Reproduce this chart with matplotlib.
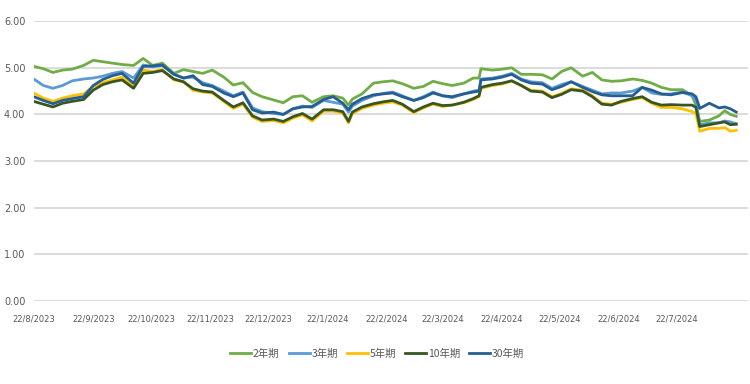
import matplotlib
matplotlib.use("Agg")
import matplotlib.pyplot as plt
import numpy as np
import pandas as pd

# reading points (dates) and yields
dates = ["2023-08-22", "2023-08-27", "2023-09-01", "2023-09-06", "2023-09-11", "2023-09-17",
         "2023-09-22", "2023-09-27", "2023-10-02", "2023-10-07", "2023-10-13", "2023-10-18",
         "2023-10-23", "2023-10-28", "2023-11-03", "2023-11-08", "2023-11-13", "2023-11-18",
         "2023-11-23", "2023-11-29", "2023-12-04", "2023-12-09", "2023-12-14", "2023-12-19",
         "2023-12-25", "2023-12-30", "2024-01-04", "2024-01-09", "2024-01-14", "2024-01-20",
         "2024-01-25", "2024-01-30", "2024-02-02", "2024-02-04", "2024-02-09", "2024-02-15",
         "2024-02-20", "2024-02-25", "2024-03-01", "2024-03-07", "2024-03-12", "2024-03-17",
         "2024-03-22", "2024-03-27", "2024-04-02", "2024-04-07", "2024-04-10", "2024-04-11",
         "2024-04-17", "2024-04-22", "2024-04-27", "2024-05-02", "2024-05-07", "2024-05-13",
         "2024-05-18", "2024-05-23", "2024-05-28", "2024-06-03", "2024-06-08", "2024-06-13",
         "2024-06-18", "2024-06-23", "2024-06-29", "2024-07-04", "2024-07-09", "2024-07-14",
         "2024-07-19", "2024-07-25", "2024-07-30", "2024-08-01", "2024-08-03", "2024-08-08",
         "2024-08-13", "2024-08-16", "2024-08-19", "2024-08-22"]

y2 = [5.03, 4.98, 4.90, 4.95, 4.97, 5.05, 5.16, 5.13, 5.10, 5.07, 5.05, 5.20,
      5.05, 5.10, 4.88, 4.96, 4.92, 4.88, 4.95, 4.80, 4.63, 4.68, 4.47, 4.38,
      4.31, 4.25, 4.38, 4.40, 4.26, 4.38, 4.40, 4.35, 4.20, 4.33, 4.44, 4.67,
      4.70, 4.72, 4.66, 4.56, 4.60, 4.71, 4.66, 4.62, 4.67, 4.78, 4.78, 4.98,
      4.95, 4.97, 5.00, 4.86, 4.86, 4.85, 4.76, 4.92, 5.00, 4.82, 4.90, 4.74,
      4.71, 4.72, 4.76, 4.73, 4.67, 4.58, 4.53, 4.53, 4.40, 4.20, 3.85, 3.88,
      3.97, 4.08, 4.00, 3.96]
y3 = [4.76, 4.62, 4.56, 4.62, 4.72, 4.76, 4.78, 4.82, 4.88, 4.92, 4.78, 5.06,
      5.02, 5.05, 4.86, 4.78, 4.80, 4.68, 4.62, 4.50, 4.40, 4.48, 4.14, 4.06,
      4.02, 4.00, 4.12, 4.18, 4.15, 4.30, 4.26, 4.22, 4.05, 4.18, 4.30, 4.40,
      4.45, 4.48, 4.40, 4.30, 4.38, 4.48, 4.40, 4.36, 4.44, 4.50, 4.52, 4.76,
      4.78, 4.82, 4.88, 4.76, 4.70, 4.68, 4.56, 4.64, 4.70, 4.60, 4.52, 4.44,
      4.46, 4.46, 4.50, 4.58, 4.46, 4.43, 4.44, 4.48, 4.40, 4.30, 3.78, 3.82,
      3.82, 3.86, 3.84, 3.80]
y5 = [4.46, 4.35, 4.28, 4.35, 4.40, 4.44, 4.60, 4.68, 4.74, 4.80, 4.62, 4.95,
      4.92, 4.96, 4.74, 4.70, 4.52, 4.48, 4.46, 4.28, 4.13, 4.22, 3.94, 3.85,
      3.87, 3.82, 3.92, 3.99, 3.86, 4.07, 4.07, 4.03, 3.82, 4.02, 4.13, 4.20,
      4.24, 4.27, 4.20, 4.04, 4.14, 4.22, 4.17, 4.20, 4.25, 4.32, 4.38, 4.56,
      4.62, 4.65, 4.72, 4.62, 4.52, 4.50, 4.38, 4.45, 4.55, 4.52, 4.40, 4.24,
      4.22, 4.26, 4.32, 4.36, 4.24, 4.15, 4.15, 4.12, 4.06, 4.02, 3.64, 3.70,
      3.70, 3.72, 3.64, 3.66]
y10 = [4.28, 4.22, 4.16, 4.24, 4.28, 4.32, 4.52, 4.64, 4.70, 4.74, 4.56, 4.88,
       4.90, 4.94, 4.76, 4.70, 4.55, 4.50, 4.48, 4.30, 4.16, 4.25, 3.97, 3.88,
       3.90, 3.85, 3.95, 4.02, 3.90, 4.10, 4.10, 4.06, 3.85, 4.05, 4.16, 4.23,
       4.27, 4.30, 4.22, 4.06, 4.16, 4.24, 4.19, 4.20, 4.26, 4.34, 4.40, 4.58,
       4.64, 4.67, 4.72, 4.62, 4.50, 4.48, 4.36, 4.43, 4.53, 4.50, 4.38, 4.22,
       4.20, 4.28, 4.34, 4.38, 4.26, 4.20, 4.21, 4.20, 4.20, 4.15, 3.74, 3.78,
       3.82, 3.84, 3.78, 3.79]
y30 = [4.38, 4.30, 4.23, 4.30, 4.34, 4.38, 4.62, 4.75, 4.83, 4.88, 4.67, 5.03,
       5.04, 5.06, 4.86, 4.78, 4.83, 4.64, 4.60, 4.46, 4.38, 4.46, 4.10, 4.03,
       4.05, 4.00, 4.12, 4.16, 4.17, 4.32, 4.38, 4.24, 4.10, 4.22, 4.34, 4.42,
       4.44, 4.46, 4.38, 4.30, 4.36, 4.46, 4.40, 4.38, 4.44, 4.48, 4.50, 4.74,
       4.76, 4.80, 4.86, 4.74, 4.67, 4.65, 4.53, 4.60, 4.70, 4.58, 4.49, 4.42,
       4.40, 4.40, 4.40, 4.58, 4.52, 4.44, 4.42, 4.47, 4.44, 4.38, 4.13, 4.24,
       4.14, 4.16, 4.12, 4.05]

labels = ["2年期", "3年期", "5年期", "10年期", "30年期"]
colors = ["#70AD47", "#5B9BD5", "#FFC000", "#375623", "#255E91"]
tick_dates = ["2023-08-22", "2023-09-22", "2023-10-22", "2023-11-22", "2023-12-22",
              "2024-01-22", "2024-02-22", "2024-03-22", "2024-04-22", "2024-05-22",
              "2024-06-22", "2024-07-22"]

plt.rcParams['font.family'] = ['Noto Sans CJK TC', 'DejaVu Sans']

x = pd.to_datetime(dates)
fig = plt.figure(figsize=(7.5, 3.84), dpi=100)
ax = fig.add_axes([0.045, 0.216, 0.952, 0.729])

for vals, lab, col in zip([y2, y3, y5, y10, y30], labels, colors):
    ax.plot(x, vals, color=col, lw=2, label=lab)

ax.set_ylim(0, 6)
ax.set_yticks(np.arange(0, 7, 1))
ax.yaxis.set_major_formatter(matplotlib.ticker.FormatStrFormatter("%.2f"))
ax.set_xlim(pd.Timestamp("2023-08-22"), pd.Timestamp("2024-08-28"))
ticks = pd.to_datetime(tick_dates)
ax.set_xticks(ticks)
ax.set_xticklabels([f"{t.day}/{t.month}/{t.year}" for t in ticks],
                   fontsize=6, color="#595959", family=["Liberation Sans Narrow", "DejaVu Sans"])
for t in ax.get_yticklabels():
    t.set_fontsize(7)
    t.set_color("#595959")
    t.set_family(["Liberation Sans Narrow", "DejaVu Sans"])

ax.grid(axis="y", color="#d9d9d9", lw=1.3)
ax.set_axisbelow(True)
for s in ax.spines.values():
    s.set_visible(False)
ax.tick_params(length=0)
ax.tick_params(axis="x", pad=10)
ax.tick_params(axis="y", pad=6)

fig.legend(loc="center", bbox_to_anchor=(0.503, 0.078), ncol=5, frameon=False,
           fontsize=7.5, handlelength=2.0, handletextpad=0.15, columnspacing=0.9,
           labelcolor="#595959")

fig.savefig("out.png", dpi=100)
